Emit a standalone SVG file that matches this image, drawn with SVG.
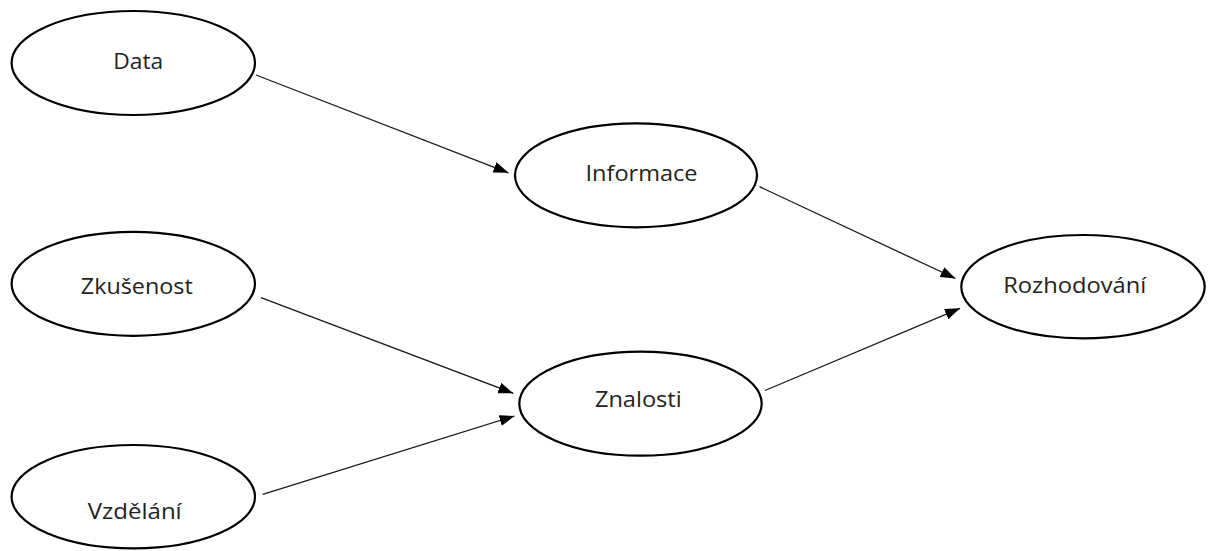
<svg xmlns="http://www.w3.org/2000/svg" width="1213" height="551" viewBox="0 0 1213 551">
<style>
.node ellipse{fill:#ffffff;stroke:#000000;stroke-width:2.2}
.node text{font-family:"Open Sans","Noto Sans","Liberation Sans",sans-serif;font-size:22.5px;fill:#222222;text-anchor:middle}
.edge{stroke:#1a1a1a;stroke-width:1.3;fill:none;marker-end:url(#arr)}
</style>
<defs>
<marker id="arr" markerUnits="userSpaceOnUse" markerWidth="16" markerHeight="12" refX="15" refY="5.5" orient="auto">
<path d="M0,0 L15,5.5 L0,11 z" fill="#000000"/>
</marker>
</defs>
<rect width="1213" height="551" fill="#ffffff"/>
<g id="connectors">
<line class="edge" x1="256" y1="75" x2="508.5" y2="172.8"/>
<line class="edge" x1="759.5" y1="186.7" x2="955.5" y2="278.5"/>
<line class="edge" x1="765" y1="390.5" x2="960" y2="308.3"/>
<line class="edge" x1="261" y1="297.7" x2="513.3" y2="393.3"/>
<line class="edge" x1="262.7" y1="494.3" x2="514.5" y2="416"/>
</g>
<g id="data" class="node">
<ellipse cx="133.3" cy="63" rx="121.7" ry="52"/>
<text x="138.3" y="69" textLength="50" lengthAdjust="spacingAndGlyphs">Data</text>
</g>
<g id="zkusenost" class="node">
<ellipse cx="133.3" cy="283.8" rx="121.7" ry="52"/>
<text x="136.8" y="294" textLength="112" lengthAdjust="spacingAndGlyphs">Zkušenost</text>
</g>
<g id="vzdelani" class="node">
<ellipse cx="133.3" cy="496.7" rx="121.7" ry="51.7"/>
<text x="134.7" y="519.3" textLength="94" lengthAdjust="spacingAndGlyphs">Vzdělání</text>
</g>
<g id="informace" class="node">
<ellipse cx="636" cy="175.3" rx="121" ry="52"/>
<text x="641.5" y="181" textLength="112" lengthAdjust="spacingAndGlyphs">Informace</text>
</g>
<g id="znalosti" class="node">
<ellipse cx="640.5" cy="403.7" rx="121.2" ry="52"/>
<text x="638.3" y="406.7" textLength="86.7" lengthAdjust="spacingAndGlyphs">Znalosti</text>
</g>
<g id="rozhodovani" class="node">
<ellipse cx="1083" cy="286.7" rx="121.7" ry="51.7"/>
<text x="1074.7" y="293.3" textLength="143" lengthAdjust="spacingAndGlyphs">Rozhodování</text>
</g>
</svg>
